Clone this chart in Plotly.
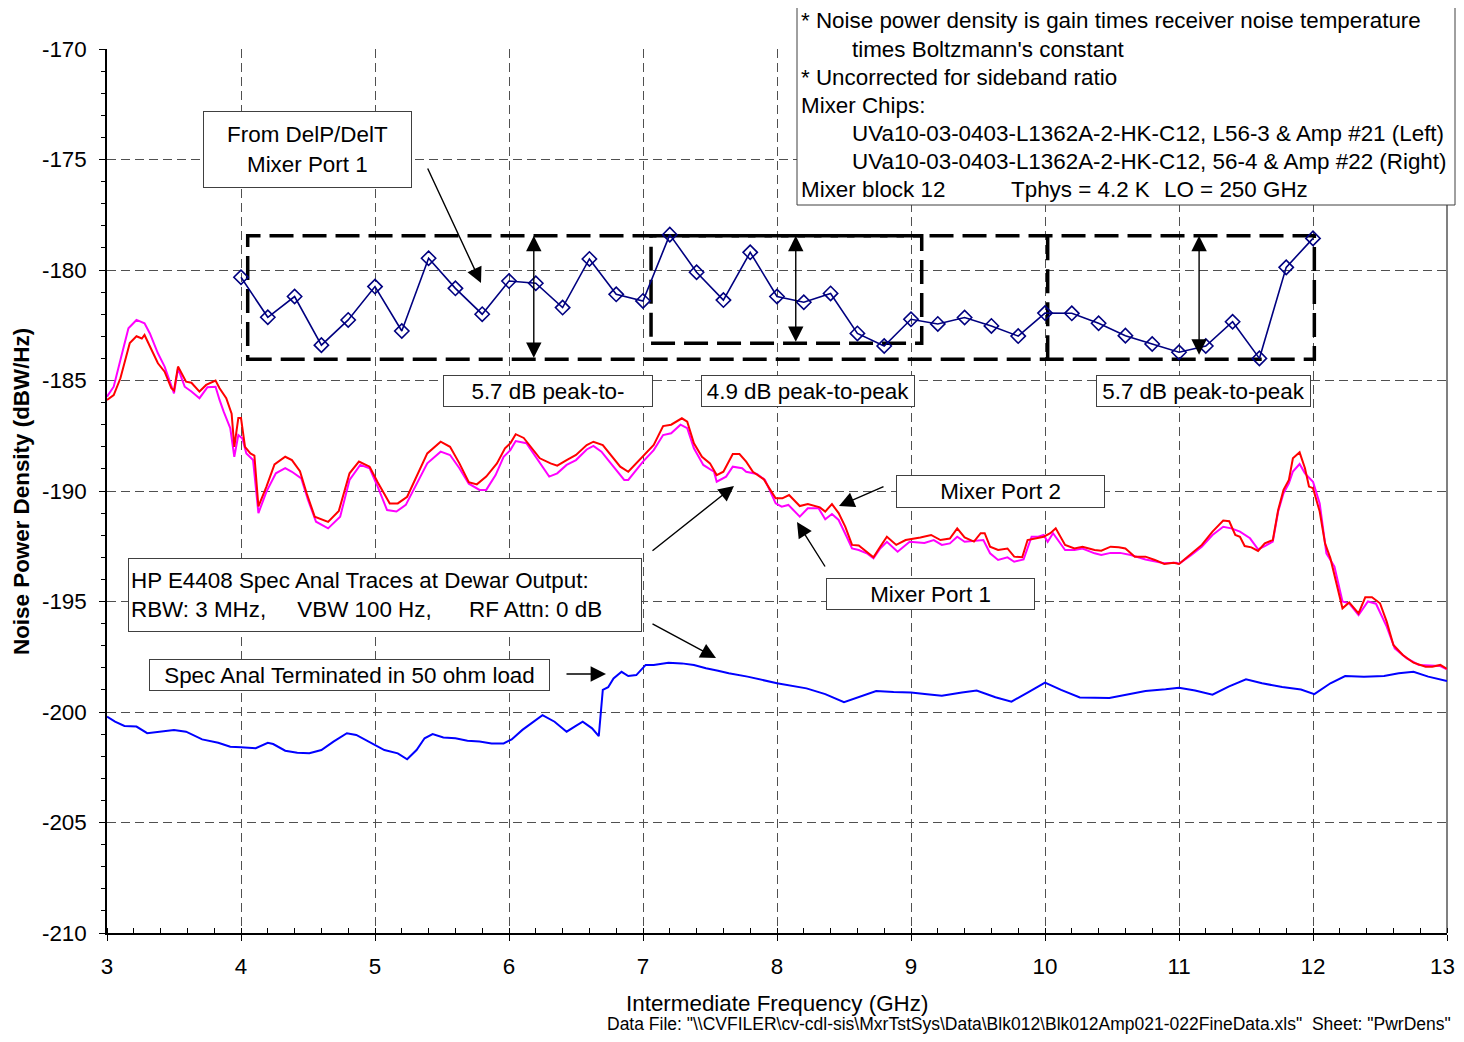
import plotly.graph_objects as go

# ---------------- data ----------------
diamond_x = [4.0, 4.2, 4.4, 4.6, 4.8, 5.0, 5.2, 5.4, 5.6, 5.8, 6.0, 6.2, 6.4, 6.6, 6.8,
             7.0, 7.2, 7.4, 7.6, 7.8, 8.0, 8.2, 8.4, 8.6, 8.8, 9.0, 9.2, 9.4, 9.6, 9.8,
             10.0, 10.2, 10.4, 10.6, 10.8, 11.0, 11.2, 11.4, 11.6, 11.8, 12.0]
diamond_y = [-180.33, -182.14, -181.2, -183.4, -182.26, -180.75, -182.76, -179.47, -180.83,
             -182.0, -180.5, -180.6, -181.7, -179.5, -181.1, -181.4, -178.4, -180.1, -181.36,
             -179.2, -181.2, -181.46, -181.06, -182.87, -183.44, -182.23, -182.44, -182.15,
             -182.53, -182.99, -181.95, -181.96, -182.41, -182.97, -183.35, -183.72, -183.44,
             -182.34, -184.0, -179.88, -178.57]

port2_x = [3.00, 3.05, 3.10, 3.17, 3.22, 3.26, 3.28, 3.32, 3.38, 3.43, 3.48, 3.50, 3.53, 3.59,
           3.63, 3.69, 3.74, 3.81, 3.84, 3.89, 3.93, 3.95, 3.98, 4.00, 4.03, 4.07, 4.10, 4.13,
           4.19, 4.25, 4.33, 4.38, 4.44, 4.49, 4.55, 4.65, 4.73, 4.81, 4.88, 4.96, 5.02, 5.11,
           5.17, 5.24, 5.30, 5.39, 5.49, 5.56, 5.63, 5.70, 5.76, 5.83, 5.91, 5.97, 6.01, 6.05,
           6.11, 6.16, 6.23, 6.31, 6.36, 6.43, 6.50, 6.58, 6.63, 6.70, 6.75, 6.83, 6.89, 6.95,
           7.00, 7.08, 7.15, 7.21, 7.29, 7.33, 7.38, 7.44, 7.50, 7.55, 7.60, 7.67, 7.72, 7.77,
           7.82, 7.90, 7.95, 7.99, 8.04, 8.09, 8.17, 8.23, 8.32, 8.36, 8.41, 8.46, 8.51, 8.56,
           8.61, 8.67, 8.72, 8.77, 8.82, 8.89, 8.96, 9.07, 9.15, 9.22, 9.29, 9.345, 9.40, 9.47,
           9.52, 9.55, 9.59, 9.65, 9.72, 9.77, 9.83, 9.87, 9.925, 9.99, 10.04, 10.08, 10.15,
           10.22, 10.28, 10.37, 10.42, 10.49, 10.55, 10.60, 10.67, 10.75, 10.82, 10.89, 10.96,
           11.00, 11.06, 11.11, 11.17, 11.25, 11.33, 11.375, 11.42, 11.455, 11.49, 11.54, 11.59,
           11.64, 11.70, 11.74, 11.78, 11.82, 11.85, 11.90, 11.94, 11.97, 12.00, 12.05, 12.09,
           12.13, 12.18, 12.22, 12.27, 12.34, 12.39, 12.44, 12.50, 12.55, 12.60, 12.67, 12.75,
           12.84, 12.89, 12.95, 13.00]
port2_y = [-185.88, -185.66, -184.9, -183.3, -183.0, -183.1, -182.94, -183.47, -184.22, -184.6,
           -185.35, -185.45, -184.37, -185.05, -185.1, -185.5, -185.2, -185.0, -185.35, -185.8,
           -186.5, -188.0, -186.7, -186.7, -188.0, -188.3, -188.4, -190.7, -189.8, -188.8,
           -188.45, -188.6, -189.1, -190.1, -191.16, -191.4, -190.9, -189.2, -188.67, -188.9,
           -189.6, -190.56, -190.56, -190.26, -189.5, -188.3, -187.77, -188.0, -188.75, -189.6,
           -189.7, -189.35, -188.75, -188.07, -187.84, -187.43, -187.6, -188.0, -188.52, -188.75,
           -188.85, -188.6, -188.37, -187.92, -187.77, -187.92, -188.3, -188.9, -189.13, -188.75,
           -188.45, -187.92, -187.06, -187.0, -186.71, -186.86, -187.84, -188.45, -188.75,
           -189.28, -189.13, -188.33, -188.33, -188.67, -189.13, -189.46, -189.95, -190.33,
           -190.33, -190.18, -190.68, -190.59, -190.74, -190.93, -190.59, -191.0, -191.62,
           -192.44, -192.47, -192.74, -193.0, -192.52, -192.07, -192.44, -192.22, -192.1,
           -191.99, -192.22, -192.15, -191.69, -192.1, -192.29, -191.91, -191.91, -192.52,
           -192.67, -192.6, -192.97, -193.0, -192.22, -192.15, -192.07, -191.91, -191.69,
           -192.44, -192.6, -192.52, -192.67, -192.7, -192.52, -192.55, -192.6, -192.97,
           -192.97, -193.12, -193.3, -193.25, -193.3, -193.0, -192.74, -192.44, -191.84,
           -191.34, -191.37, -191.99, -192.07, -192.49, -192.55, -192.71, -192.37, -192.22,
           -190.86, -189.95, -189.5, -188.52, -188.25, -188.97, -189.8, -189.87, -190.93,
           -192.37, -193.05, -194.33, -195.31, -195.04, -195.54, -194.81, -194.81, -195.08,
           -195.91, -196.97, -197.42, -197.77, -197.95, -197.95, -197.87, -198.05]

port1_x = [3.00, 3.05, 3.10, 3.16, 3.22, 3.28, 3.32, 3.38, 3.43, 3.50, 3.53, 3.58, 3.63, 3.69,
           3.75, 3.81, 3.84, 3.87, 3.92, 3.95, 3.98, 4.01, 4.04, 4.09, 4.13, 4.19, 4.26, 4.33,
           4.38, 4.45, 4.50, 4.56, 4.65, 4.74, 4.81, 4.89, 4.96, 5.02, 5.09, 5.16, 5.23, 5.30,
           5.39, 5.49, 5.56, 5.63, 5.70, 5.78, 5.83, 5.90, 5.96, 6.01, 6.05, 6.13, 6.23, 6.30,
           6.36, 6.43, 6.50, 6.58, 6.63, 6.69, 6.76, 6.86, 6.89, 6.97, 7.00, 7.08, 7.15, 7.21,
           7.28, 7.33, 7.38, 7.45, 7.53, 7.55, 7.62, 7.67, 7.74, 7.77, 7.85, 7.91, 7.99, 8.035,
           8.085, 8.17, 8.23, 8.31, 8.36, 8.41, 8.46, 8.52, 8.56, 8.61, 8.67, 8.72, 8.77, 8.82,
           8.90, 8.99, 9.10, 9.17, 9.23, 9.29, 9.345, 9.40, 9.48, 9.54, 9.59, 9.65, 9.72, 9.77,
           9.84, 9.90, 9.95, 9.99, 10.02, 10.06, 10.15, 10.22, 10.28, 10.37, 10.42, 10.49,
           10.56, 10.64, 10.75, 10.82, 10.89, 10.98, 11.00, 11.09, 11.17, 11.25, 11.33, 11.39,
           11.455, 11.53, 11.59, 11.64, 11.70, 11.74, 11.78, 11.82, 11.85, 11.90, 11.94, 12.00,
           12.05, 12.10, 12.16, 12.22, 12.27, 12.34, 12.41, 12.47, 12.55, 12.61, 12.70, 12.79,
           12.95, 13.00]
port1_y = [-185.73, -185.28, -184.07, -182.64, -182.26, -182.41, -182.87, -183.77, -184.37,
           -185.58, -184.45, -185.28, -185.5, -185.8, -185.3, -185.28, -185.88, -186.4, -187.16,
           -188.45, -187.47, -187.62, -188.3, -188.6, -191.0, -190.03, -189.2, -188.97, -189.13,
           -189.43, -190.4, -191.39, -191.69, -191.16, -189.5, -188.82, -188.97, -189.8, -190.86,
           -190.93, -190.63, -189.8, -188.75, -188.22, -188.37, -188.97, -189.67, -189.95,
           -189.95, -189.28, -188.45, -188.15, -187.74, -187.84, -188.75, -189.35, -189.2,
           -188.82, -188.6, -188.12, -187.96, -188.22, -188.75, -189.5, -189.5, -188.9, -188.67,
           -188.15, -187.47, -187.39, -187.0, -187.16, -188.07, -188.82, -189.13, -189.58,
           -189.35, -188.9, -188.97, -189.13, -189.23, -189.5, -190.56, -190.71, -190.63,
           -191.16, -190.78, -190.78, -191.28, -191.04, -191.31, -192.07, -192.6, -192.67,
           -192.82, -193.05, -192.6, -192.3, -192.75, -192.3, -192.35, -192.22, -192.44,
           -192.37, -192.07, -192.3, -192.25, -192.22, -192.82, -193.12, -193.0, -193.2,
           -193.1, -192.07, -192.07, -191.99, -192.3, -191.91, -192.67, -192.67, -192.6,
           -192.82, -192.9, -192.8, -192.8, -192.9, -193.1, -193.2, -193.27, -193.25, -193.3,
           -192.9, -192.52, -191.99, -191.62, -191.69, -191.84, -192.14, -192.64, -192.49,
           -192.29, -190.93, -190.1, -189.65, -189.12, -188.78, -189.2, -189.58, -190.56,
           -192.82, -193.42, -195.0, -195.08, -195.61, -195.0, -195.1, -196.14, -197.12,
           -197.57, -197.87, -197.92, -198.07]

term_x = [3.00, 3.06, 3.13, 3.22, 3.30, 3.38, 3.50, 3.59, 3.71, 3.83, 3.92, 4.00, 4.11, 4.20,
          4.24, 4.33, 4.42, 4.51, 4.60, 4.69, 4.79, 4.86, 4.98, 5.07, 5.17, 5.24, 5.31, 5.37,
          5.43, 5.51, 5.60, 5.69, 5.78, 5.87, 5.96, 6.02, 6.10, 6.18, 6.25, 6.34, 6.43, 6.49,
          6.55, 6.62, 6.67, 6.70, 6.74, 6.78, 6.84, 6.89, 6.95, 7.02, 7.08, 7.19, 7.29, 7.38,
          7.47, 7.56, 7.64, 7.78, 8.00, 8.22, 8.36, 8.50, 8.62, 8.74, 8.87, 9.00, 9.12, 9.23,
          9.38, 9.49, 9.63, 9.75, 9.87, 10.00, 10.12, 10.26, 10.48, 10.61, 10.75, 10.90, 11.00,
          11.12, 11.25, 11.37, 11.50, 11.62, 11.77, 11.91, 12.01, 12.13, 12.24, 12.38, 12.53,
          12.64, 12.75, 12.86, 13.00]
term_y = [-200.21, -200.44, -200.63, -200.66, -200.96, -200.89, -200.81, -200.89, -201.24,
          -201.39, -201.57, -201.6, -201.64, -201.39, -201.45, -201.75, -201.84, -201.87,
          -201.72, -201.34, -200.96, -201.04, -201.42, -201.72, -201.87, -202.14, -201.72,
          -201.19, -201.0, -201.15, -201.19, -201.3, -201.34, -201.42, -201.42, -201.24,
          -200.81, -200.44, -200.14, -200.44, -200.89, -200.66, -200.44, -200.74, -201.09,
          -199.0, -198.88, -198.48, -198.18, -198.37, -198.33, -197.87, -197.87, -197.77,
          -197.8, -197.87, -198.02, -198.13, -198.25, -198.4, -198.7, -198.93, -199.19,
          -199.56, -199.31, -199.05, -199.1, -199.12, -199.2, -199.26, -199.12, -199.03,
          -199.33, -199.53, -199.12, -198.67, -199.0, -199.34, -199.37, -199.22, -199.05,
          -198.97, -198.9, -199.03, -199.22, -198.85, -198.52, -198.7, -198.87, -198.98,
          -199.19, -198.7, -198.37, -198.4, -198.37, -198.25, -198.18, -198.4, -198.6]

x_ticks = [3, 4, 5, 6, 7, 8, 9, 10, 11, 12, 13]
y_ticks = [-210, -205, -200, -195, -190, -185, -180, -175, -170]

# dashed peak-to-peak boxes (data units)
box_outer = dict(x0=4.05, x1=12.01, y0=-184.04, y1=-178.45)
box_mid = dict(x0=7.06, x1=9.08, y0=-183.32, y1=-178.45)
box_divider_x = 10.02
pp_arrows = [(6.185, -178.45, -184.04), (8.14, -178.45, -183.32), (11.15, -178.45, -183.9)]

# ---------------- layout geometry ----------------
OFF = 8                      # page offset of the plot div (body margin)
W, H = 1464 - 2 * OFF, 1042 - 2 * OFF
PLOT_L, PLOT_R, PLOT_T, PLOT_B = 107, 1447, 49, 933   # plot area in page pixels
L, T = PLOT_L - OFF, PLOT_T - OFF
R = OFF + W - PLOT_R
B = OFF + H - PLOT_B
PW, PH = PLOT_R - PLOT_L, PLOT_B - PLOT_T
FONT = "Arial, Liberation Sans, Helvetica, sans-serif"
FS = 22.4


def PX(px):                  # page pixel -> paper x
    return (px - PLOT_L) / PW


def PY(py):                  # page pixel -> paper y
    return (PLOT_B - py) / PH


fig = go.Figure()
fig.add_trace(go.Scatter(x=term_x, y=term_y, mode="lines",
                         line=dict(color="#0000FF", width=2), name="Terminated"))
fig.add_trace(go.Scatter(x=port1_x, y=port1_y, mode="lines",
                         line=dict(color="#FF00FF", width=2), name="Mixer Port 1"))
fig.add_trace(go.Scatter(x=port2_x, y=port2_y, mode="lines",
                         line=dict(color="#FF0000", width=2), name="Mixer Port 2"))
fig.add_trace(go.Scatter(x=diamond_x, y=diamond_y, mode="lines+markers",
                         line=dict(color="#000080", width=1.6),
                         marker=dict(symbol="diamond-open", size=11, color="#000080",
                                     line=dict(width=1.6, color="#000080")),
                         name="DelP/DelT"))

shapes = []
dash_style = dict(color="black", width=3.5, dash="24px,9px")
shapes.append(dict(type="rect", xref="x", yref="y", layer="between", line=dash_style, **box_outer))
shapes.append(dict(type="rect", xref="x", yref="y", layer="between", line=dash_style, **box_mid))
shapes.append(dict(type="line", xref="x", yref="y", layer="between", line=dash_style,
                   x0=box_divider_x, x1=box_divider_x, y0=box_outer["y0"], y1=box_outer["y1"]))
# right border of plot area
shapes.append(dict(type="line", xref="paper", yref="paper", layer="between",
                   x0=1, x1=1, y0=0, y1=1, line=dict(color="#808080", width=2)))
# info box (top right)
shapes.append(dict(type="rect", xref="paper", yref="paper", layer="above",
                   x0=PX(797), x1=PX(1455), y0=PY(205), y1=PY(5),
                   fillcolor="white", line=dict(color="#404040", width=1)))

ann = []


def boxed(text, cx, cy, w, h, align="center"):
    ann.append(dict(text=text, xref="paper", yref="paper", x=PX(cx), y=PY(cy),
                    xanchor="center", yanchor="middle", showarrow=False,
                    width=w, height=h, align=align, valign="middle",
                    bgcolor="white", bordercolor="#404040", borderwidth=1, borderpad=2,
                    font=dict(family=FONT, size=FS, color="black")))


boxed("From DelP/DelT<br>Mixer Port 1", 307, 149, 203, 71)
boxed("5.7 dB peak-to-", 547.5, 391.5, 204, 26)
boxed("4.9 dB peak-to-peak", 807.5, 391.5, 208, 26)
boxed("5.7 dB peak-to-peak", 1203, 391.5, 209, 26)
boxed("Mixer Port 2", 1000, 491, 203, 27)
boxed("Mixer Port 1", 930, 593.5, 203, 26)
boxed("HP E4408 Spec Anal Traces at Dewar Output:<br>"
      "RBW: 3 MHz,&nbsp;&nbsp;&nbsp;&nbsp; VBW 100 Hz,&nbsp;&nbsp;&nbsp;&nbsp;&nbsp; RF Attn: 0 dB",
      384.5, 594.5, 508, 68, align="left")
boxed("Spec Anal Terminated in 50 ohm load", 349, 675.5, 395, 26)


def txt(text, px, py, size=FS, anchor="left", **kw):
    ann.append(dict(text=text, xref="paper", yref="paper", x=PX(px), y=PY(py),
                    xanchor=anchor, yanchor="middle", showarrow=False,
                    font=dict(family=FONT, size=size, color="black"), **kw))


txt("* Noise power density is gain times receiver noise temperature", 799, 21)
txt("times Boltzmann's constant", 850, 49)
txt("* Uncorrected for sideband ratio", 799, 77)
txt("Mixer Chips:", 799, 105)
txt("UVa10-03-0403-L1362A-2-HK-C12, L56-3 &amp; Amp #21 (Left)", 850, 133)
txt("UVa10-03-0403-L1362A-2-HK-C12, 56-4 &amp; Amp #22 (Right)", 850, 161)
txt("Mixer block 12", 799, 189)
txt("Tphys = 4.2 K", 1009, 189)
txt("LO = 250 GHz", 1162, 189)

# axis titles and footer
txt("<b>Noise Power Density (dBW/Hz)</b>", 21, 492, size=FS, anchor="center", textangle=-90)
txt("Intermediate Frequency (GHz)", 777, 1003, size=FS, anchor="center")
txt('Data File: "\\\\CVFILER\\cv-cdl-sis\\MxrTstSys\\Data\\Blk012\\Blk012Amp021-022FineData.xls"'
    '&nbsp;&nbsp;Sheet: "PwrDens"', 1453, 1024, size=17.5, anchor="right")

# last x tick label: drawn as an annotation nudged left so it stays inside the page
last_tick = x_ticks[-1]
ann.append(dict(text=str(last_tick), xref="x", yref="paper", x=last_tick, y=PY(966),
                xanchor="center", yanchor="middle", xshift=-5, showarrow=False,
                font=dict(family=FONT, size=FS, color="black")))


def arrow(hx, hy, tx, ty):
    ann.append(dict(text="", xref="paper", yref="paper", x=PX(hx), y=PY(hy),
                    ax=tx - hx, ay=ty - hy, showarrow=True, arrowhead=2, arrowsize=2.2,
                    arrowwidth=1.4, arrowcolor="black", standoff=0, startstandoff=0))


arrow(481, 283, 427, 167)
arrow(734, 486, 651, 552)
arrow(716, 658, 651, 623)
arrow(606, 674, 565, 674)
arrow(839, 506, 885, 486)
arrow(797, 522, 826, 568)

for xv, ytop, ybot in pp_arrows:
    ann.append(dict(text="", xref="x", yref="y", x=xv, y=ytop, axref="x", ayref="y",
                    ax=xv, ay=ybot, showarrow=True, arrowhead=2, arrowsize=2.2,
                    arrowwidth=1.4, arrowcolor="black", arrowside="end+start",
                    startarrowhead=2, startarrowsize=2.2))

x_ticktext = [str(v) for v in x_ticks[:-1]] + [""]

fig.update_layout(
    width=W, height=H, autosize=False,
    margin=dict(l=L, r=R, t=T, b=B, pad=0),
    paper_bgcolor="white", plot_bgcolor="white",
    showlegend=False,
    font=dict(family=FONT, size=FS, color="black"),
    shapes=shapes, annotations=ann,
    xaxis=dict(range=[3, 13], tickvals=x_ticks, ticktext=x_ticktext,
               showgrid=True, gridcolor="#505050", gridwidth=1, griddash="9px,5px",
               zeroline=False, showline=True, linecolor="black", linewidth=2,
               ticks="outside", ticklen=6, tickcolor="black", tickwidth=1,
               ticklabelstandoff=6, tickfont=dict(family=FONT, size=FS),
               minor=dict(dtick=0.2, ticks="inside", ticklen=5, tickcolor="black",
                          showgrid=False)),
    yaxis=dict(range=[-210, -170], tickvals=y_ticks, ticktext=[str(v) for v in y_ticks],
               showgrid=True, gridcolor="#505050", gridwidth=1, griddash="9px,5px",
               zeroline=False, showline=True, linecolor="black", linewidth=1.5,
               ticks="outside", ticklen=6, tickcolor="black", tickwidth=1,
               ticklabelstandoff=8, tickfont=dict(family=FONT, size=FS),
               minor=dict(dtick=1, ticks="outside", ticklen=4, tickcolor="black",
                          showgrid=False)),
)

fig.write_html("out.html", config={"displayModeBar": False})
